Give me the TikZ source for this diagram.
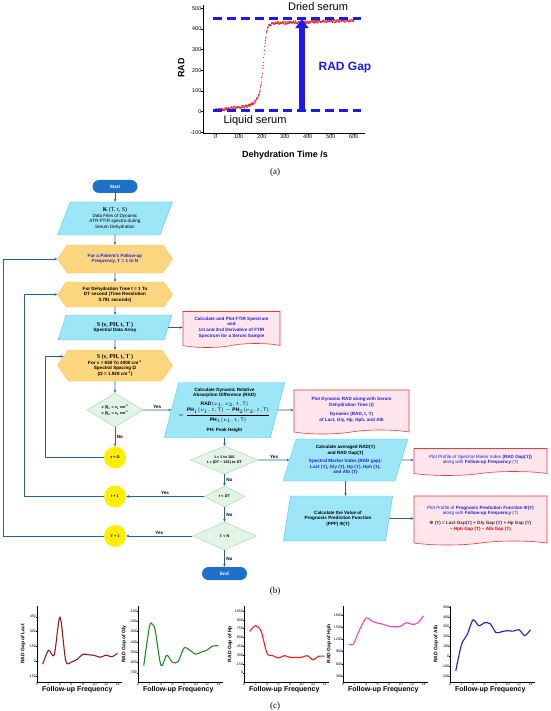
\documentclass[tikz,border=0pt]{standalone}
\usepackage{amsmath}
\usepackage{fontspec}
\setmainfont{Liberation Sans}
\newfontfamily\serifrm{Liberation Serif}
\usetikzlibrary{shapes.geometric, shapes.symbols, arrows.meta}

\definecolor{pillblue}{HTML}{1E70C8}
\definecolor{paracyan}{HTML}{9CE6F8}
\definecolor{paraedge}{HTML}{45CDEE}
\definecolor{hexgold}{HTML}{FCD67E}
\definecolor{hexedge}{HTML}{F5C25A}
\definecolor{diagreen}{HTML}{E3F4E6}
\definecolor{diaedge}{HTML}{9ED8AE}
\definecolor{docpink}{HTML}{FFE6EC}
\definecolor{docedge}{HTML}{F03A3A}
\definecolor{bulbyellow}{HTML}{FFEE00}
\definecolor{linkblue}{HTML}{2360A8}
\definecolor{inkblue}{HTML}{2020E0}
\definecolor{gapblue}{HTML}{1A1AF0}
\definecolor{plotred}{HTML}{F02020}
\definecolor{lactred}{HTML}{A01818}
\definecolor{glygreen}{HTML}{1E8C1E}
\definecolor{hpred}{HTML}{FF1A1A}
\definecolor{hphpink}{HTML}{FF40B0}
\definecolor{albblue}{HTML}{1A1AD8}

\newcommand{\boxfont}{\fontsize{4.6}{5.6}\selectfont}
\newcommand{\smallfont}{\fontsize{3.8}{4.6}\selectfont}
\newcommand{\tickfont}{\fontsize{3.6}{4}\selectfont}
\newcommand{\Tt}{{\serifrm T}}

\tikzset{
    flow/.style={->, >={Stealth[length=3pt,width=2.6pt]}, draw=linkblue, line width=0.6pt},
    pill/.style={draw=none, fill=pillblue, rounded corners=6.5pt, minimum width=45pt,
        minimum height=13pt, text=white, font=\boxfont\bfseries, inner sep=0pt},
    iobox/.style={trapezium, trapezium left angle=72, trapezium right angle=108,
        trapezium stretches=true, draw=paraedge, fill=paracyan, align=center,
        font=\boxfont\bfseries, inner sep=0pt, line width=0.4pt},
    loopbox/.style={signal, signal to=east and west, signal pointer angle=110,
        draw=hexedge, fill=hexgold, align=center, font=\boxfont\bfseries, inner sep=0pt},
    testbox/.style={diamond, draw=diaedge, fill=diagreen, align=center,
        font=\smallfont\bfseries, inner sep=0pt},
    docbox/.style={tape, tape bend top=none, tape bend height=4pt, draw=docedge,
        fill=docpink, text=inkblue, align=center, font=\boxfont\bfseries,
        inner sep=0pt, line width=0.6pt},
    bulb/.style={circle, fill=bulbyellow, minimum size=22pt, inner sep=0pt,
        font=\smallfont\bfseries},
    answer/.style={font=\boxfont\bfseries, inner sep=1.5pt},
    minitick/.style={font=\tickfont, inner sep=0.8pt},
    panel/.style={font=\serifrm\fontsize{9}{10}\selectfont}
}

% one small follow-up panel: left px, px of zero, y scale, y ticks, name, colour, data
\newcommand{\gapplot}[7]{%
    \begin{scope}[shift={(#1,#2)}, x=5.75pt, y=#3pt]
        \pgfmathsetmacro\ybot{-(682-#2)/#3}
        \pgfmathsetmacro\ytop{(#2-606)/#3}
        \draw[line width=0.35pt] (0,\ytop) -- (0,\ybot) -- (14.8,\ybot);
        \foreach \f in {0,2,...,14} {
            \draw[line width=0.3pt] (\f,\ybot) -- ++(0,-1.2pt);
            \node[minitick, below] (#5x\f) at (\f,\ybot) {\f};
        }
        \foreach \g in {#4} {
            \draw[line width=0.3pt] (0,\g) -- ++(-1.2pt,0);
            \node[minitick, left] (#5y\g) at (0,\g) {\g};
        }
        \draw[#6, line width=1.1pt] plot[smooth] coordinates {#7};
        \node[xshift=-14pt, rotate=90, font=\fontsize{5}{6}\selectfont\bfseries]
            (#5name) at (0,{(\ytop+\ybot)/2}) {RAD Gap of #5};
        \node[font=\fontsize{7}{8}\selectfont\bfseries, below=4.5pt, inner sep=0pt]
            (#5axis) at (7,\ybot) {Follow-up Frequency};
    \end{scope}}

\begin{document}
\begin{tikzpicture}[x=1pt, y=-1pt]
    \useasboundingbox (0,0) rectangle (550,711);

    % (a) RAD against dehydration time
    \begin{scope}[shift={(215.7,111.7)}, x=0.23pt, y=0.207pt]
        \draw[line width=0.5pt] (-55,515) -- (-55,-103) -- (650,-103);
        \foreach \t in {0,100,...,600} {
            \draw (\t,-103) -- ++(0,-2pt);
            \node[font=\fontsize{5.5}{6}\selectfont, below, inner sep=1.5pt] (tx\t) at (\t,-103) {\t};
        }
        \foreach \r in {-100,0,...,500} {
            \draw (-55,\r) -- ++(-2pt,0);
            \node[font=\fontsize{5.5}{6}\selectfont, left, inner sep=1.5pt] (ry\r) at (-55,\r) {\r};
        }
        \pgfmathsetseed{7}
        \draw[plotred] plot[only marks, mark=*, mark size=0.35pt, domain=0:600, samples=420]
            (\x, {8 + 0.12*min(\x,200) + 45/(1+exp(min(9,max(-9,(175-\x)/15))))
                 + 350/(1+exp(min(9,max(-9,(208-\x)/7)))) + 0.04*max(\x-230,0) + 7*rand});
        \draw[gapblue, line width=2.4pt, dash pattern=on 9pt off 5pt] (-12,450) -- (630,450);
        \draw[gapblue, line width=2.4pt, dash pattern=on 9pt off 5pt] (-12,5) -- (630,5);
        \draw[gapblue, line width=6pt, -{Triangle[length=9pt,width=13pt]}] (375,12) -- (375,447);
        \node[font=\fontsize{11}{12}\selectfont] (driedlbl) at (445,506) {Dried serum};
        \node[font=\fontsize{11}{12}\selectfont] (liquidlbl) at (171,-45) {Liquid serum};
        \node[font=\fontsize{12}{13}\selectfont\bfseries, text=gapblue] (gaplbl) at (562,215) {RAD Gap};
        \node[font=\fontsize{9}{10}\selectfont\bfseries] (timelbl) at (301,-209) {Dehydration Time /s};
        \node[font=\fontsize{9}{10}\selectfont\bfseries, rotate=90] (radlbl) at (-150,210) {RAD};
    \end{scope}
    \node[panel] (capa) at (275,172) {(a)};

    % (b) flowchart
    \coordinate (railT) at (3,0);
    \coordinate (railt) at (24,0);
    \coordinate (railnu) at (45,0);

    \node[pill] at (115,186.5) (start) {Start};
    \node[iobox, font=\boxfont, minimum width=115pt, minimum height=33pt] at (115,218.5) (kdata)
        {{\serifrm\fontsize{6}{7}\selectfont\textbf{K} (T, t, S)}\\Data Files of Dynamic\\ATR-FTIR spectra during\\Serum Dehydration};
    \node[loopbox, text=inkblue, minimum width=115pt, minimum height=28pt] at (115,259) (follow)
        {For a Patient's Follow-up\\Frequency, \Tt{} = 1 to N};
    \node[loopbox, minimum width=115pt, minimum height=25pt] at (115,294.5) (dehyd)
        {For Dehydration Time t = 1 To\\DT second (Time Resolution\\0.791 seconds)};
    \node[iobox, minimum width=114pt, minimum height=25pt] at (115,327.5) (sarray)
        {{\serifrm\fontsize{6}{7}\selectfont\bfseries S (ν, PH, t, T )}\\Spectral Data Array};
    \node[docbox, minimum width=97pt, minimum height=36pt] at (231.5,327.5) (ftirdoc)
        {Calculate and Plot FTIR Spectrum\\and\\1st and 2nd Derivative of FTIR\\Spectrum for a Serum Sample};
    \node[loopbox, minimum width=115pt, minimum height=31pt] at (115,365.5) (wnum)
        {{\serifrm\fontsize{6}{7}\selectfont\bfseries S (ν, PH, t, T )}\\For ν = 650 To 4000 cm\textsuperscript{-1}\\Spectral Spacing Ω\\(Ω = 1.928 cm\textsuperscript{-1})};
    \node[testbox, aspect=1.65, minimum width=56pt, minimum height=34pt] at (115,410) (chkwn)
        {ν (I)\textsubscript{1} = ν\textsubscript{1} cm\textsuperscript{-1}\\ν (I)\textsubscript{2} = ν\textsubscript{2} cm\textsuperscript{-1}};
    \node[bulb] at (115,457.5) (nuplus) {ν + Ω};
    \node[iobox, minimum width=117pt, minimum height=55pt] at (224.5,410) (radcalc)
        {Calculate Dynamic Relative\\Absorption Difference (RAD)\\[3pt]
         {\fontsize{5}{6}\selectfont$\mathbf{RAD}(\nu_1, \nu_2, t, \mathrm{T})$}\\
         {\fontsize{5}{6}\selectfont$= \dfrac{\mathbf{PH}_1(\nu_1, t, \mathrm{T}) - \mathbf{PH}_2(\nu_2, t, \mathrm{T})}{\mathbf{PH}_1(\nu_1, t, \mathrm{T})}$}\\[4pt]
         PH: Peak Height};
    \node[docbox, minimum width=115pt, minimum height=44pt] at (351.5,410) (raddoc)
        {Plot Dynamic RAD along with Serum\\Dehydration Time (t)\\[4pt]Dynamic (RAD, t, \Tt)\\of Lact, Gly, Hp, Hph, and Alb};
    \node[testbox, aspect=2.4, minimum width=68pt, minimum height=28pt] at (224.5,460) (chkt)
        {t = 1 to 100\\t = (DT − 101) to DT};
    \node[iobox, minimum width=125pt, minimum height=42pt] at (345.5,460) (avgrad)
        {Calculate averaged RAD(\Tt)\\and RAD Gap(\Tt)\\[3pt]
         \textcolor{inkblue}{Spectral Marker Index (RAD gap):}\\
         \textcolor{inkblue}{Lact (\Tt), Gly (\Tt), Hp (\Tt), Hph (\Tt),}\\
         \textcolor{inkblue}{and Alb (\Tt)}};
    \node[docbox, font=\boxfont, minimum width=133pt, minimum height=27pt] at (480.5,460) (avgdoc)
        {Plot Profile of Spectral Maker Index \textbf{(RAD Gap(\Tt))}\\along with \textbf{Follow-up Frequency} (\Tt)};
    \node[iobox, minimum width=110pt, minimum height=45pt] at (338,518.5) (ppf)
        {Calculate the Value of\\Prognosis Prediction Function\\(PPF) Φ(\Tt)};
    \node[docbox, font=\boxfont, minimum width=133pt, minimum height=49pt] at (480.5,518.5) (ppfdoc)
        {Plot Profile of \textbf{Prognosis Prediction Function Φ(\Tt)}\\along with \textbf{Follow-up Frequency} (\Tt)\\[4pt]
         \textcolor{black!80}{\textbf{Φ (\Tt) = Lact Gap(\Tt) + Gly Gap (\Tt) + Hp Gap (\Tt)}}\\
         \textcolor{red}{\textbf{− Hph Gap (\Tt) − Alb Gap (\Tt)}}};
    \node[testbox, aspect=2, minimum width=41pt, minimum height=21pt] at (224.5,496.5) (chkdt) {t < DT};
    \node[bulb] at (115,496.5) (tplus) {t + 1};
    \node[testbox, aspect=2.3, minimum width=64pt, minimum height=28pt] at (224.5,536) (chkN) {\Tt{} < N};
    \node[bulb] at (115,536) (Tplus) {\Tt{} + 1};
    \node[pill] at (224.5,573.5) (stop) {End};

    \draw[flow] (start) -- (kdata);
    \draw[flow] (kdata) -- (follow);
    \draw[flow] (follow) -- (dehyd);
    \draw[flow] (dehyd) -- (sarray);
    \draw[flow] (sarray.east) -- (ftirdoc.west);
    \draw[flow] (sarray) -- (wnum);
    \draw[flow] (wnum) -- (chkwn);
    \draw[flow] (chkwn.east) -- node[answer, above] (yes1) {Yes} (radcalc.west);
    \draw[flow] (chkwn) -- node[answer, right] (no1) {No} (nuplus);
    \draw[flow] (nuplus.west) -- (nuplus.west -| railnu) |- (wnum.170);
    \draw[flow] (radcalc.east) -- (raddoc.west);
    \draw[flow] (radcalc.south) -- (chkt.north);
    \draw[flow] (chkt.east) -- node[answer, above] (yes2) {Yes} (avgrad.west);
    \draw[flow] (avgrad.east) -- (avgdoc.west);
    \draw[flow] (avgrad.south) -- (avgrad.south |- ppf.north);
    \draw[flow] (ppf.east) -- (ppfdoc.west);
    \draw[flow] (chkt) -- node[answer, right] (no2) {No} (chkdt);
    \draw[flow] (chkdt.west) -- node[answer, above] (yes3) {Yes} (tplus.east);
    \draw[flow] (tplus.west) -- (tplus.west -| railt) |- (dehyd.west);
    \draw[flow] (chkdt) -- node[answer, right] (no3) {No} (chkN);
    \draw[flow] (chkN.west) -- node[answer, above] (yes4) {Yes} (Tplus.east);
    \draw[flow] (Tplus.west) -- (Tplus.west -| railT) |- (follow.west);
    \draw[flow] (chkN) -- node[answer, right] (no4) {No} (stop);
    \node[panel] (capb) at (275,591) {(b)};

    % (c) RAD gap of each marker along the follow-up
    \gapplot{37}{661.2}{0.0988}{-150,0,150,300,450}{Lact}{lactred}
        {(1,-30) (2,110) (3,65) (4,445) (5,5) (6,-8) (7,20) (8,70) (9,65) (10,58) (11,40) (12,62) (13,45) (14,80)}
    \gapplot{138}{600.7}{0.1028}{-700,-600,...,-100}{Gly}{glygreen}
        {(1,-630) (2,-250) (2.5,-230) (3,-290) (4,-630) (5,-530) (6,-600) (7,-590) (8,-460) (9,-480) (10,-520) (11,-500) (12,-480) (13,-440) (14,-440)}
    \gapplot{244}{672.7}{0.0588}{0,150,...,1050}{Hp}{hpred}
        {(1,700) (2,800) (3,700) (4,330) (5,290) (6,250) (7,290) (8,260) (9,260) (10,260) (11,290) (12,220) (13,280) (14,280)}
    \gapplot{343}{688.2}{0.0407}{300,600,...,1800}{Hph}{hphpink}
        {(1,1080) (1.8,1080) (2.6,1350) (4,1720) (5,1650) (6,1600) (7,1570) (8,1520) (9,1510) (10,1520) (11,1610) (12,1570) (13,1600) (14,1780)}
    \gapplot{450}{656.3}{0.0986}{-200,-100,...,500}{Alb}{albblue}
        {(1,-150) (2,120) (3,220) (4,370) (5,310) (6,340) (7,330) (8,240) (9,250) (10,260) (11,255) (12,270) (13,210) (14,270)}
    \node[panel] (capc) at (275,706) {(c)};
\end{tikzpicture}
\end{document}
